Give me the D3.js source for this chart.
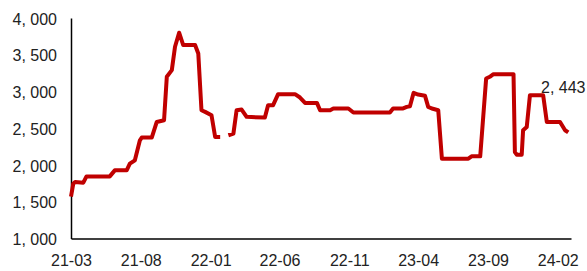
<!DOCTYPE html>
<html>
<head>
<meta charset="utf-8">
<script src="https://cdn.jsdelivr.net/npm/d3@7"></script>
<style>
  html, body { margin: 0; padding: 0; background: #fff; }
  svg { display: block; }
  text { font-family: "Liberation Sans", Arial, sans-serif; }
</style>
</head>
<body>
<svg id="chart" width="587" height="271"></svg>
<script>
// ---- data ----
const dates = [
  "2021-03-01","2021-03-06","2021-03-10","2021-03-28","2021-04-04","2021-05-25","2021-06-05","2021-07-01",
  "2021-07-08","2021-07-19","2021-07-30","2021-08-03","2021-08-25","2021-09-05","2021-09-21","2021-09-27",
  "2021-10-08","2021-10-15","2021-10-24","2021-11-02","2021-11-28","2021-12-05","2021-12-12","2021-12-20",
  "2022-01-03","2022-01-11","2022-01-22","2022-01-31","2022-02-09","2022-02-20","2022-02-27","2022-03-10",
  "2022-03-21","2022-04-30","2022-05-07","2022-05-18","2022-05-29","2022-07-05","2022-07-16","2022-07-27",
  "2022-08-22","2022-08-29","2022-09-20","2022-09-27","2022-10-30","2022-11-10","2023-01-29","2023-02-05",
  "2023-02-27","2023-03-07","2023-03-14","2023-03-22","2023-04-01","2023-04-16","2023-04-23","2023-05-01",
  "2023-05-15","2023-05-23","2023-07-20","2023-07-27","2023-08-15","2023-08-28","2023-09-05","2023-09-13",
  "2023-10-27","2023-10-30","2023-11-03","2023-11-14","2023-11-17","2023-11-25","2023-12-02","2023-12-31",
  "2024-01-08","2024-02-06","2024-02-17","2024-02-24"
];
const values = [
  1570, 1746, 1768, 1760, 1845, 1845, 1927, 1927,
  2018, 2064, 2336, 2373, 2373, 2586, 2609, 3200,
  3291, 3609, 3800, 3632, 3632, 3518, 2745, 2723,
  2677, 2381, 2381, null, 2405, 2427, 2745, 2755,
  2655, 2645, 2814, 2814, 2964, 2964, 2918, 2845,
  2845, 2745, 2745, 2768, 2768, 2714, 2714, 2770,
  2770, 2791, 2800, 2982, 2959, 2941, 2791, 2768,
  2745, 2086, 2086, 2118, 2118, 3177, 3200, 3236,
  3236, 2177, 2141, 2141, 2473, 2518, 2950, 2950,
  2586, 2586, 2473, 2443
];
const xTickLabels = ["21-03","21-08","22-01","22-06","22-11","23-04","23-09","24-02"];
const yTicks = [1000, 1500, 2000, 2500, 3000, 3500, 4000];
const lastLabel = "2, 443";

// ---- chart ----
const svg = d3.select("#chart");
const parse = d3.timeParse("%Y-%m-%d");
const parseTick = d3.timeParse("%y-%m");
const data = dates.map((d, i) => ({ date: parse(d), value: values[i] }));

const mLeft = 71, mRight = 571, mTop = 18, mBottom = 238.5;
const x = d3.scaleTime()
  .domain([parse("2021-03-01"), parse("2024-03-01")])
  .range([mLeft, mRight]);
const y = d3.scaleLinear()
  .domain([1000, 4000])
  .range([mBottom, mTop]);

const fmt = v => d3.format(",")(v).replace(",", ", ");

const yAxis = d3.axisLeft(y)
  .tickValues(yTicks)
  .tickFormat(fmt)
  .tickSize(0)
  .tickSizeOuter(0)
  .tickPadding(14);
const gy = svg.append("g")
  .attr("transform", `translate(${mLeft},0)`)
  .call(yAxis);
gy.selectAll("text").attr("font-size", 16).attr("fill", "#222")
  .attr("font-family", '"Liberation Sans", Arial, sans-serif').attr("dy", "0.38em");
gy.select(".domain").attr("stroke", "#000").attr("stroke-width", 1.5);

const xAxis = d3.axisBottom(x)
  .tickValues(xTickLabels.map(t => parseTick(t)))
  .tickFormat((d, i) => xTickLabels[i])
  .tickSize(0)
  .tickSizeOuter(0)
  .tickPadding(16.5);
const gx = svg.append("g")
  .attr("transform", `translate(0,${mBottom})`)
  .call(xAxis);
gx.selectAll("text").attr("font-size", 16).attr("fill", "#222")
  .attr("font-family", '"Liberation Sans", Arial, sans-serif');
gx.select(".domain").attr("stroke", "#000").attr("stroke-width", 1.5);

const line = d3.line()
  .defined(d => d.value !== null)
  .x(d => x(d.date))
  .y(d => y(d.value));

svg.append("path")
  .datum(data)
  .attr("fill", "none")
  .attr("stroke", "#c00000")
  .attr("stroke-width", 4)
  .attr("stroke-linejoin", "round")
  .attr("stroke-linecap", "butt")
  .attr("d", line);

const last = data[data.length - 1];
svg.append("text")
  .attr("x", x(last.date) - 5)
  .attr("y", y(last.value) - 39)
  .attr("text-anchor", "middle")
  .attr("font-size", 16)
  .attr("fill", "#222")
  .text(lastLabel);
</script>
</body>
</html>
